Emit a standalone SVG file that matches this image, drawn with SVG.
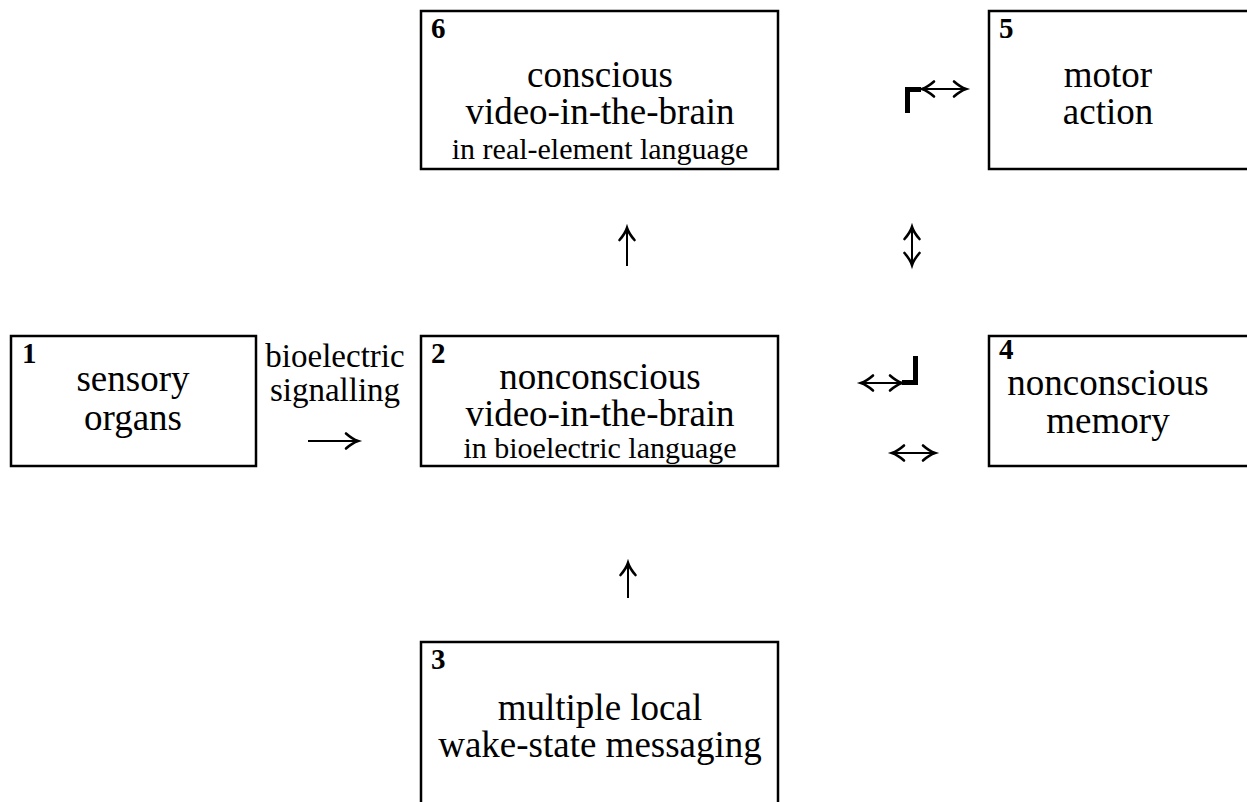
<svg xmlns="http://www.w3.org/2000/svg" width="1247" height="802" viewBox="0 0 1247 802">
<style>
.box{fill:#fff;stroke:#000;stroke-width:2.5}
text{font-family:"Liberation Serif","Times New Roman",serif;fill:#000}
.big{font-size:37px;text-anchor:middle}
.small{font-size:30px;text-anchor:middle}
.lbl{font-size:33px;text-anchor:middle}
.num{font-size:29px;font-weight:bold;text-anchor:start}
.ln{fill:none;stroke:#000;stroke-width:2;marker-end:url(#ah)}
.dbl{marker-start:url(#ah)}
.cor{fill:none;stroke:#000;stroke-width:5;stroke-linejoin:miter;stroke-linecap:butt}
</style>
<defs>
<marker id="ah" markerUnits="userSpaceOnUse" markerWidth="30" markerHeight="30" viewBox="-15 -15 30 30" refX="0" refY="0" orient="auto-start-reverse">
<path d="M-12,-7.5 Q-5.5,-1.8 0,0 Q-5.5,1.8 -12,7.5" fill="none" stroke="#000" stroke-width="2.6" stroke-linecap="round"/>
</marker>
</defs>
<rect width="1247" height="802" fill="#fff"/>
<g id="node6">
<rect class="box" x="421" y="11" width="357" height="158"/>
<text><tspan class="num" x="431" y="38">6</tspan><tspan class="big" x="600" y="87">conscious</tspan><tspan class="big" x="600" y="124">video-in-the-brain</tspan><tspan class="small" x="600" y="158.5">in real-element language</tspan></text>
</g>
<g id="node5">
<rect class="box" x="989" y="11" width="300" height="158"/>
<text><tspan class="num" x="999" y="38">5</tspan><tspan class="big" x="1108" y="87">motor</tspan><tspan class="big" x="1108" y="124">action</tspan></text>
</g>
<g id="node1">
<rect class="box" x="11" y="336" width="245" height="130"/>
<text><tspan class="num" x="22" y="363">1</tspan><tspan class="big" x="133" y="391">sensory</tspan><tspan class="big" x="133" y="430">organs</tspan></text>
</g>
<g id="node2">
<rect class="box" x="421" y="336" width="357" height="130"/>
<text><tspan class="num" x="431" y="363">2</tspan><tspan class="big" x="600" y="389">nonconscious</tspan><tspan class="big" x="600" y="426">video-in-the-brain</tspan><tspan class="small" x="600" y="458">in bioelectric language</tspan></text>
</g>
<g id="node4">
<rect class="box" x="989" y="336" width="300" height="130"/>
<text><tspan class="num" x="999" y="359">4</tspan><tspan class="big" x="1108" y="395">nonconscious</tspan><tspan class="big" x="1108" y="432.5">memory</tspan></text>
</g>
<g id="node3">
<rect class="box" x="421" y="642" width="357" height="200"/>
<text><tspan class="num" x="431" y="669">3</tspan><tspan class="big" x="600" y="720">multiple local</tspan><tspan class="big" x="600" y="757">wake-state messaging</tspan></text>
</g>
<g id="connectors">
<text class="lbl"><tspan x="335" y="367">bioelectric</tspan><tspan x="335" y="401">signalling</tspan></text>
<path class="ln" d="M308,441 H358"/>
<path class="ln" d="M627,266 V228"/>
<path class="ln" d="M628,598 V563"/>
<path class="ln dbl" d="M912,265 V227"/>
<path class="ln dbl" d="M922,89 H966"/>
<path class="ln dbl" d="M861,383 H902"/>
<path class="ln dbl" d="M892,453 H935"/>
<path class="cor" d="M907.5,113 V89.5 H921"/>
<path class="cor" d="M902,382.5 H915.5 V356"/>
</g>
</svg>
